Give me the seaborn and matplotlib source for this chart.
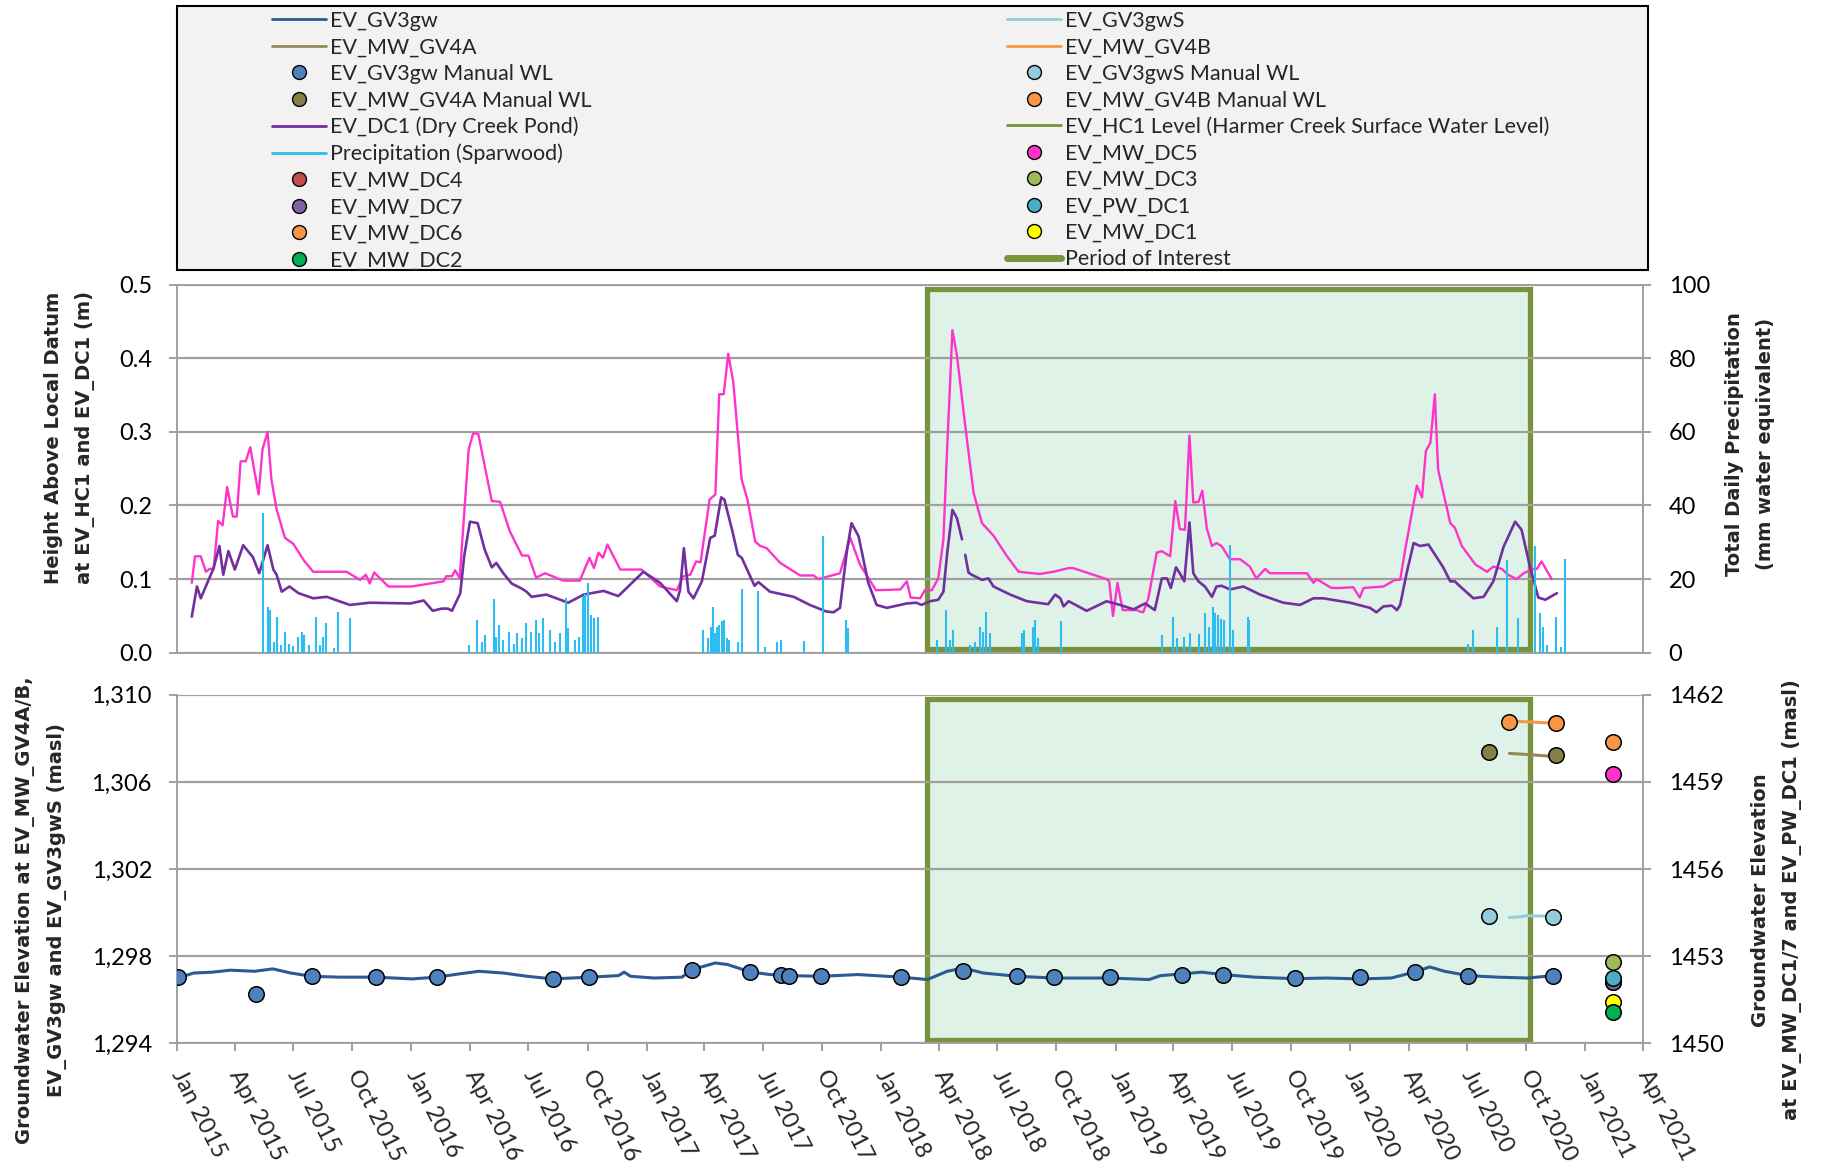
import pandas as pd
import seaborn as sns
import matplotlib.pyplot as plt
import matplotlib.dates as mdates
from matplotlib.lines import Line2D
from matplotlib.patches import Rectangle
from matplotlib.ticker import FuncFormatter, FixedLocator

# 데이터: 2015-01-01 기준 경과일 / 값
hc1_day = [23, 28, 37, 45, 51, 57, 64, 71, 78, 87, 93, 99, 107, 114, 127, 133, 141, 147, 155, 168,
           181, 197, 212, 264, 285, 294, 300, 307, 329, 365, 415, 419, 428, 433, 440, 454, 461, 469,
           490, 503, 518, 537, 547, 559, 573, 601, 627, 642, 649, 656, 663, 670, 690, 723, 752, 778,
           788, 799, 808, 815, 829, 838, 844, 851, 858, 866, 879, 888, 900, 908, 918, 939, 970, 991,
           998, 1032, 1048, 1063, 1088, 1126, 1136, 1142, 1157, 1164, 1175, 1185, 1193, 1199, 1207,
           1214, 1227, 1240, 1253, 1271, 1292, 1310, 1343, 1364, 1388, 1395, 1416, 1447, 1451, 1457,
           1464, 1472, 1494, 1499, 1504, 1512, 1525, 1533, 1546, 1554, 1561, 1569, 1576, 1582, 1590,
           1596, 1603, 1611, 1618, 1626, 1639, 1655, 1670, 1680, 1694, 1701, 1759, 1769, 1774, 1797,
           1810, 1831, 1841, 1847, 1878, 1888, 1896, 1904, 1912, 1930, 1938, 1944, 1951, 1958, 1963,
           1982, 1989, 2000, 2021, 2039, 2049, 2062, 2072, 2085, 2096, 2109, 2117, 2124, 2140]
hc1_m = [.095, .131, .131, .110, .114, .114, .179, .173, .225, .185, .185, .260, .260, .279, .215,
         .276, .300, .235, .195, .156, .148, .126, .110, .110, .099, .106, .094, .109, .090, .090,
         .097, .104, .104, .112, .101, .276, .298, .297, .206, .205, .165, .132, .132, .102, .108,
         .098, .098, .129, .115, .136, .129, .147, .113, .113, .090, .085, .104, .106, .124, .123,
         .208, .215, .351, .351, .406, .367, .235, .208, .151, .145, .142, .122, .105, .105, .100,
         .108, .156, .120, .085, .086, .097, .075, .074, .085, .085, .101, .154, .281, .438, .404,
         .308, .217, .176, .159, .131, .110, .107, .110, .115, .115, .109, .100, .097, .050, .095,
         .058, .058, .056, .055, .074, .136, .138, .131, .206, .168, .167, .295, .204, .205, .220,
         .169, .145, .149, .145, .127, .127, .117, .101, .114, .108, .108, .095, .100, .088, .088,
         .089, .075, .088, .090, .095, .099, .099, .141, .227, .211, .274, .285, .351, .249, .176,
         .170, .145, .120, .110, .117, .114, .106, .100, .108, .113, .114, .124, .100]

dc1_day_a = [23, 31, 37, 57, 66, 72, 80, 90, 103, 118, 128, 141, 150, 155, 163, 175, 189, 212, 233,
             269, 300, 363, 384, 398, 412, 422, 428, 441, 447, 456, 468, 479, 490, 497, 508, 521,
             537, 544, 552, 575, 609, 633, 664, 687, 726, 752, 778, 783, 789, 796, 804, 817, 830,
             837, 847, 852, 864, 873, 879, 899, 905, 923, 960, 985, 1011, 1022, 1032, 1043, 1050,
             1061, 1076, 1089, 1105, 1136, 1151, 1159, 1172, 1185, 1193, 1199, 1207, 1214, 1222]
dc1_m_a = [.049, .090, .074, .115, .145, .106, .138, .113, .146, .130, .108, .146, .113, .106, .083,
           .090, .081, .074, .076, .065, .068, .067, .071, .057, .060, .060, .057, .081, .131, .178,
           .176, .140, .116, .122, .108, .094, .087, .083, .076, .079, .068, .079, .084, .077, .110,
           .095, .070, .085, .142, .083, .074, .097, .156, .159, .211, .208, .167, .133, .129, .091,
           .096, .083, .076, .065, .056, .055, .061, .140, .176, .158, .095, .065, .061, .067, .068,
           .065, .070, .072, .083, .136, .194, .183, .154]
dc1_day_b = [1227, 1232, 1237, 1253, 1263, 1271, 1297, 1323, 1356, 1367, 1375, 1380, 1388, 1416,
             1447, 1468, 1489, 1507, 1517, 1522, 1533, 1541, 1547, 1555, 1561, 1568, 1576, 1582,
             1590, 1600, 1611, 1618, 1626, 1639, 1660, 1686, 1722, 1748, 1769, 1784, 1826, 1857,
             1867, 1878, 1891, 1899, 1904, 1914, 1925, 1935, 1948, 1971, 1982, 1989, 2000, 2018,
             2034, 2049, 2065, 2083, 2093, 2106, 2119, 2130, 2148]
dc1_m_b = [.133, .109, .106, .099, .101, .090, .079, .070, .066, .079, .074, .063, .070, .057, .070,
           .065, .059, .067, .061, .058, .101, .101, .088, .116, .108, .097, .177, .108, .097, .090,
           .076, .090, .091, .086, .090, .079, .068, .065, .074, .074, .068, .061, .055, .063, .064,
           .058, .065, .108, .149, .145, .147, .116, .097, .097, .088, .074, .076, .097, .144, .178,
           .167, .117, .075, .072, .081]

rain_day = [134, 141, 144, 151, 156, 162, 168, 175, 181, 188, 194, 197, 205, 216, 222, 228, 232, 244,
            250, 270, 455, 467, 474, 479, 494, 497, 502, 508, 517, 524, 530, 537, 544, 551, 559, 564,
            570, 581, 588, 596, 606, 609, 620, 625, 632, 635, 639, 644, 649, 656, 818, 827, 831, 834,
            838, 841, 844, 848, 852, 856, 860, 874, 879, 905, 915, 934, 940, 976, 1006, 1041, 1044,
            1183, 1197, 1204, 1208, 1235, 1242, 1250, 1255, 1260, 1266, 1315, 1318, 1332, 1336,
            1341, 1376, 1533, 1550, 1557, 1567, 1577, 1591, 1600, 1607, 1612, 1616, 1620, 1625,
            1629, 1639, 1643, 1667, 1669, 2010, 2017, 2054, 2071, 2088, 2114, 2121, 2126, 2132,
            2147, 2154, 2161]
rain_mm = [38, 12.5, 11.6, 3, 9.8, 2, 5.7, 2.5, 1.8, 4.4, 5.7, 4.8, 2, 9.8, 2, 4.4, 8.2, 1.2, 11.2,
           9.4, 2.1, 8.9, 3, 4.8, 14.5, 4.4, 7.5, 3.5, 5.7, 2.5, 5.3, 3.9, 8, 5.7, 8.9, 5.3, 9.4, 6.2,
           3, 5.3, 14.8, 6.6, 3.5, 4.4, 15.3, 16, 18.9, 10.3, 9.4, 9.8, 6.2, 3.9, 7.1, 12.5, 5.3, 7.1,
           7.5, 8.5, 8.9, 3.9, 3.6, 3, 17.3, 16.8, 1.6, 3, 3.6, 3.3, 31.6, 9, 6.6, 3.5, 11.5, 3.6,
           6.2, 2.1, 3, 7.1, 5.7, 11.2, 5.3, 5.3, 6.2, 7.1, 8.9, 3.9, 8.5, 4.8, 9.6, 3.9, 4.4, 5.5,
           5.1, 10.9, 7.1, 12.5, 10.7, 10.3, 9.1, 8.9, 29.4, 6.2, 9.8, 8.9, 2.5, 6.2, 6.9, 25.1,
           9.4, 28.9, 10.7, 7.1, 2.1, 9.8, 1.6, 25.5]

gv3gw_day = [1, 26, 55, 83, 121, 149, 177, 210, 253, 310, 366, 404, 442, 470, 508, 545, 585, 642, 687,
             696, 706, 743, 786, 802, 838, 857, 892, 923, 953, 1003, 1060, 1127, 1168, 1199, 1224,
             1255, 1308, 1365, 1453, 1513, 1531, 1564, 1595, 1628, 1678, 1741, 1789, 1842, 1890,
             1927, 1950, 1973, 2010, 2056, 2102, 2142]
gv3gw_masl = [1297.00, 1297.23, 1297.27, 1297.36, 1297.31, 1297.42, 1297.23, 1297.08, 1297.04,
              1297.04, 1296.96, 1297.04, 1297.20, 1297.31, 1297.23, 1297.08, 1296.96, 1297.04,
              1297.11, 1297.27, 1297.08, 1297.00, 1297.04, 1297.39, 1297.69, 1297.62, 1297.28,
              1297.16, 1297.11, 1297.08, 1297.16, 1297.04, 1296.93, 1297.31, 1297.46, 1297.23,
              1297.08, 1297.00, 1297.00, 1296.93, 1297.11, 1297.19, 1297.27, 1297.16, 1297.04,
              1296.97, 1297.00, 1296.96, 1297.00, 1297.28, 1297.51, 1297.31, 1297.11, 1297.04,
              1297.00, 1297.11]
gv3gw_wl_day = [1, 123, 210, 310, 404, 585, 642, 802, 892, 940, 953, 1003, 1127, 1224, 1308, 1365,
                1453, 1564, 1628, 1741, 1842, 1927, 2010, 2142]
gv3gw_wl = [1297.04, 1296.27, 1297.08, 1297.04, 1297.04, 1296.96, 1297.04, 1297.39, 1297.28,
            1297.16, 1297.11, 1297.08, 1297.04, 1297.34, 1297.08, 1297.04, 1297.04, 1297.16,
            1297.16, 1297.00, 1297.04, 1297.28, 1297.11, 1297.11]

gv4a_day = [2074, 2096, 2134]
gv4a_masl = [1307.31, 1307.27, 1307.19]
gv4a_wl_day = [2042, 2146]
gv4a_wl = [1307.37, 1307.25]
gv4b_day = [2083, 2110, 2139]
gv4b_masl = [1308.78, 1308.75, 1308.70]
gv4b_wl_day = [2073, 2146]
gv4b_wl = [1308.75, 1308.72]
gv3gws_day = [2074, 2088, 2100, 2134]
gv3gws_masl = [1299.78, 1299.80, 1299.86, 1299.84]
gv3gws_wl_day = [2042, 2142]
gv3gws_wl = [1299.84, 1299.81]

dc_wells = ['EV_MW_DC4', 'EV_MW_DC7', 'EV_PW_DC1', 'EV_MW_DC3', 'EV_MW_DC6', 'EV_MW_DC5',
            'EV_MW_DC1', 'EV_MW_DC2']
dc_masl = [1452.10, 1452.12, 1452.26, 1452.79, 1460.39, 1459.27, 1451.44, 1451.09]
dc_day = 2235

ticks_top_left = [0.0, 0.1, 0.2, 0.3, 0.4, 0.5]
ticks_top_right = [0, 20, 40, 60, 80, 100]
ticks_bot_left = [1294, 1298, 1302, 1306, 1310]
ticks_bot_right = [1450, 1453, 1456, 1459, 1462]

period_start, period_end = '2018-03-14', '2020-10-07'

col = {
    'EV_GV3gw': '#2C5A93', 'EV_GV3gw WL': '#4F81BD', 'EV_MW_GV4A': '#948A54',
    'EV_MW_GV4A WL': '#857F48', 'EV_GV3gwS': '#93CDDD', 'EV_MW_GV4B': '#F79646',
    'EV_DC1': '#7030A0', 'HC1': '#FF33CC', 'HC1 legend': '#77933C', 'rain': '#2DBDF0',
    'EV_MW_DC4': '#C0504D', 'EV_MW_DC7': '#8064A2', 'EV_MW_DC6': '#F79646', 'EV_MW_DC2': '#00B050',
    'EV_MW_DC5': '#FF33CC', 'EV_MW_DC3': '#9BBB59', 'EV_PW_DC1': '#4BACC6', 'EV_MW_DC1': '#FFFF00',
}
GRID = '#A0A0A0'
POI = '#77933C'

sns.set_style('white')
plt.rcParams['font.family'] = ['Lato', 'DejaVu Sans']

t0 = pd.Timestamp('2015-01-01')


def to_date(d):
    return (t0 + pd.to_timedelta(pd.Series(d, dtype=float), unit='D')).values


fig = plt.figure(figsize=(18.28, 11.62), dpi=100)
ax1 = fig.add_axes([0.09683, 0.43821, 0.80197, 0.31695])
ax2 = fig.add_axes([0.09683, 0.10207, 0.80197, 0.30000])
ax1r = ax1.twinx()
ax2r = ax2.twinx()

# 관심 기간
for ax in (ax1, ax2):
    ax.axvspan(pd.Timestamp(period_start), pd.Timestamp(period_end), ymin=0.011, ymax=0.989,
               facecolor='#DFF2E7', edgecolor=POI, linewidth=3.8, zorder=0.2)

# 상단: 수위 + 강수량
sns.lineplot(x=to_date(hc1_day), y=hc1_m, ax=ax1, color=col['HC1'], linewidth=1.7,
             estimator=None, sort=False, zorder=3)
sns.lineplot(x=to_date(dc1_day_a), y=dc1_m_a, ax=ax1, color=col['EV_DC1'], linewidth=1.9,
             estimator=None, sort=False, zorder=4)
sns.lineplot(x=to_date(dc1_day_b), y=dc1_m_b, ax=ax1, color=col['EV_DC1'], linewidth=1.9,
             estimator=None, sort=False, zorder=4)
ax1r.vlines(to_date(rain_day), 0, rain_mm, color=col['rain'], linewidth=1.5)

# 하단: 지하수위
sns.lineplot(x=to_date(gv3gw_day), y=gv3gw_masl, ax=ax2, color=col['EV_GV3gw'], linewidth=2.2,
             estimator=None, sort=False, zorder=3)
sns.lineplot(x=to_date(gv4a_day), y=gv4a_masl, ax=ax2, color=col['EV_MW_GV4A'], linewidth=2.2,
             estimator=None, sort=False, zorder=3)
sns.lineplot(x=to_date(gv4b_day), y=gv4b_masl, ax=ax2, color=col['EV_MW_GV4B'], linewidth=2.2,
             estimator=None, sort=False, zorder=3)
sns.lineplot(x=to_date(gv3gws_day), y=gv3gws_masl, ax=ax2, color=col['EV_GV3gwS'], linewidth=2.2,
             estimator=None, sort=False, zorder=3)
for d, v, c in [(gv3gw_wl_day, gv3gw_wl, col['EV_GV3gw WL']),
                (gv4a_wl_day, gv4a_wl, col['EV_MW_GV4A WL']),
                (gv4b_wl_day, gv4b_wl, col['EV_MW_GV4B']),
                (gv3gws_wl_day, gv3gws_wl, col['EV_GV3gwS'])]:
    sns.scatterplot(x=to_date(d), y=v, ax=ax2, color=c, edgecolor='black', linewidth=1.1,
                    s=125, zorder=5, legend=False)
for w, v in zip(dc_wells, dc_masl):
    sns.scatterplot(x=to_date([dc_day]), y=[v], ax=ax2r, color=col[w], edgecolor='black',
                    linewidth=1.1, s=125, zorder=5, legend=False)

# 축 설정
xlim = (pd.Timestamp('2015-01-01'), pd.Timestamp('2021-04-01'))
for ax in (ax1, ax2, ax1r, ax2r):
    ax.set_xlim(xlim)
    ax.set_xlabel('')
    ax.set_ylabel('')

ax1.set_ylim(0, 0.5)
ax1.yaxis.set_major_locator(FixedLocator(ticks_top_left))
ax1.yaxis.set_major_formatter(FuncFormatter(lambda v, p: f'{v:.1f}'))
ax1r.set_ylim(0, 100)
ax1r.yaxis.set_major_locator(FixedLocator(ticks_top_right))
ax1r.yaxis.set_major_formatter(FuncFormatter(lambda v, p: f'{v:.0f}'))
ax2.set_ylim(1294, 1310)
ax2.yaxis.set_major_locator(FixedLocator(ticks_bot_left))
ax2.yaxis.set_major_formatter(FuncFormatter(lambda v, p: f'{v:,.0f}'))
ax2r.set_ylim(1450, 1462)
ax2r.yaxis.set_major_locator(FixedLocator(ticks_bot_right))
ax2r.yaxis.set_major_formatter(FuncFormatter(lambda v, p: f'{v:.0f}'))

for ax in (ax1, ax2):
    ax.set_axisbelow(True)
    ax.yaxis.grid(True, color=GRID, linewidth=1.6)
    ax.xaxis.grid(False)
    for s in ('left', 'bottom', 'top'):
        ax.spines[s].set_visible(True)
        ax.spines[s].set_color(GRID)
        ax.spines[s].set_linewidth(1.4)
    ax.spines['right'].set_visible(False)
    ax.tick_params(axis='y', direction='out', length=6, width=1.4, color=GRID,
                   labelsize=17, pad=12, labelcolor='black', left=True)
for ax in (ax1r, ax2r):
    for s in ('left', 'bottom', 'top'):
        ax.spines[s].set_visible(False)
    ax.spines['right'].set_visible(True)
    ax.spines['right'].set_color(GRID)
    ax.spines['right'].set_linewidth(1.4)
    ax.tick_params(axis='y', direction='out', length=6, width=1.4, color=GRID,
                   labelsize=17, pad=12.5, labelcolor='black', right=True)
    ax.grid(False)
ax2.spines['top'].set_visible(False)

ax1.tick_params(axis='x', bottom=False, labelbottom=False)
ax1r.tick_params(axis='x', bottom=False, labelbottom=False)
ax2.xaxis.set_major_locator(mdates.MonthLocator(bymonth=[1, 4, 7, 10]))
ax2.xaxis.set_major_formatter(mdates.DateFormatter('%b %Y'))
ax2.tick_params(axis='x', direction='out', length=6, width=1.4, color=GRID, labelsize=17,
                pad=14, bottom=True)
plt.setp(ax2.get_xticklabels(), rotation=-63, ha='left', va='center', rotation_mode='anchor')

# 축 제목
lab = dict(fontfamily='DejaVu Sans', fontweight='bold', fontsize=14, rotation=90,
           ha='center', va='center', linespacing=1.8)
fig.text(0.0378, 0.6239, 'Height Above Local Datum\nat EV_HC1 and EV_DC1 (m)',
         multialignment='left', **lab)
fig.text(0.9573, 0.6179, 'Total Daily Precipitation\n(mm water equivalent)',
         multialignment='center', **lab)
fig.text(0.0224, 0.2169, 'Groundwater Elevation at EV_MW_GV4A/B,\nEV_GV3gw and EV_GV3gwS (masl)',
         multialignment='center', **lab)
fig.text(0.9721, 0.2255, 'Groundwater Elevation\nat EV_MW_DC1/7 and EV_PW_DC1 (masl)',
         multialignment='center', **lab)


# 범례
def ln(c, lw=2.0):
    return Line2D([], [], color=c, linewidth=lw)


def mk(c):
    return Line2D([], [], linestyle='none', marker='o', markersize=10, markerfacecolor=c,
                  markeredgecolor='black', markeredgewidth=1.0)


left_items = [
    (ln(col['EV_GV3gw']), 'EV_GV3gw'),
    (ln(col['EV_MW_GV4A']), 'EV_MW_GV4A'),
    (mk(col['EV_GV3gw WL']), 'EV_GV3gw Manual WL'),
    (mk(col['EV_MW_GV4A WL']), 'EV_MW_GV4A Manual WL'),
    (ln(col['EV_DC1']), 'EV_DC1 (Dry Creek Pond)'),
    (ln(col['rain']), 'Precipitation (Sparwood)'),
    (mk(col['EV_MW_DC4']), 'EV_MW_DC4'),
    (mk(col['EV_MW_DC7']), 'EV_MW_DC7'),
    (mk(col['EV_MW_DC6']), 'EV_MW_DC6'),
    (mk(col['EV_MW_DC2']), 'EV_MW_DC2'),
]
right_items = [
    (ln(col['EV_GV3gwS']), 'EV_GV3gwS'),
    (ln(col['EV_MW_GV4B']), 'EV_MW_GV4B'),
    (mk(col['EV_GV3gwS']), 'EV_GV3gwS Manual WL'),
    (mk(col['EV_MW_GV4B']), 'EV_MW_GV4B Manual WL'),
    (ln(col['HC1 legend']), 'EV_HC1 Level (Harmer Creek Surface Water Level)'),
    (mk(col['EV_MW_DC5']), 'EV_MW_DC5'),
    (mk(col['EV_MW_DC3']), 'EV_MW_DC3'),
    (mk(col['EV_PW_DC1']), 'EV_PW_DC1'),
    (mk(col['EV_MW_DC1']), 'EV_MW_DC1'),
    (ln(POI, 5), 'Period of Interest'),
]

fig.add_artist(Rectangle((177 / 1828, 1 - 270 / 1162), (1648 - 177) / 1828, 264 / 1162,
                         transform=fig.transFigure, facecolor='#F2F2F2', edgecolor='black',
                         linewidth=1.5, zorder=0))
for items, x0 in ((left_items, 272 / 1828), (right_items, 1007 / 1828)):
    fig.legend([h for h, _ in items], [t for _, t in items], loc='upper left',
               bbox_to_anchor=(x0, 1 - 11 / 1162), frameon=False, fontsize=15.5, borderpad=0,
               borderaxespad=0, handlelength=2.5, handletextpad=0.2, labelspacing=0.30,
               handleheight=0.7)

fig.savefig('out.png', dpi=100)
